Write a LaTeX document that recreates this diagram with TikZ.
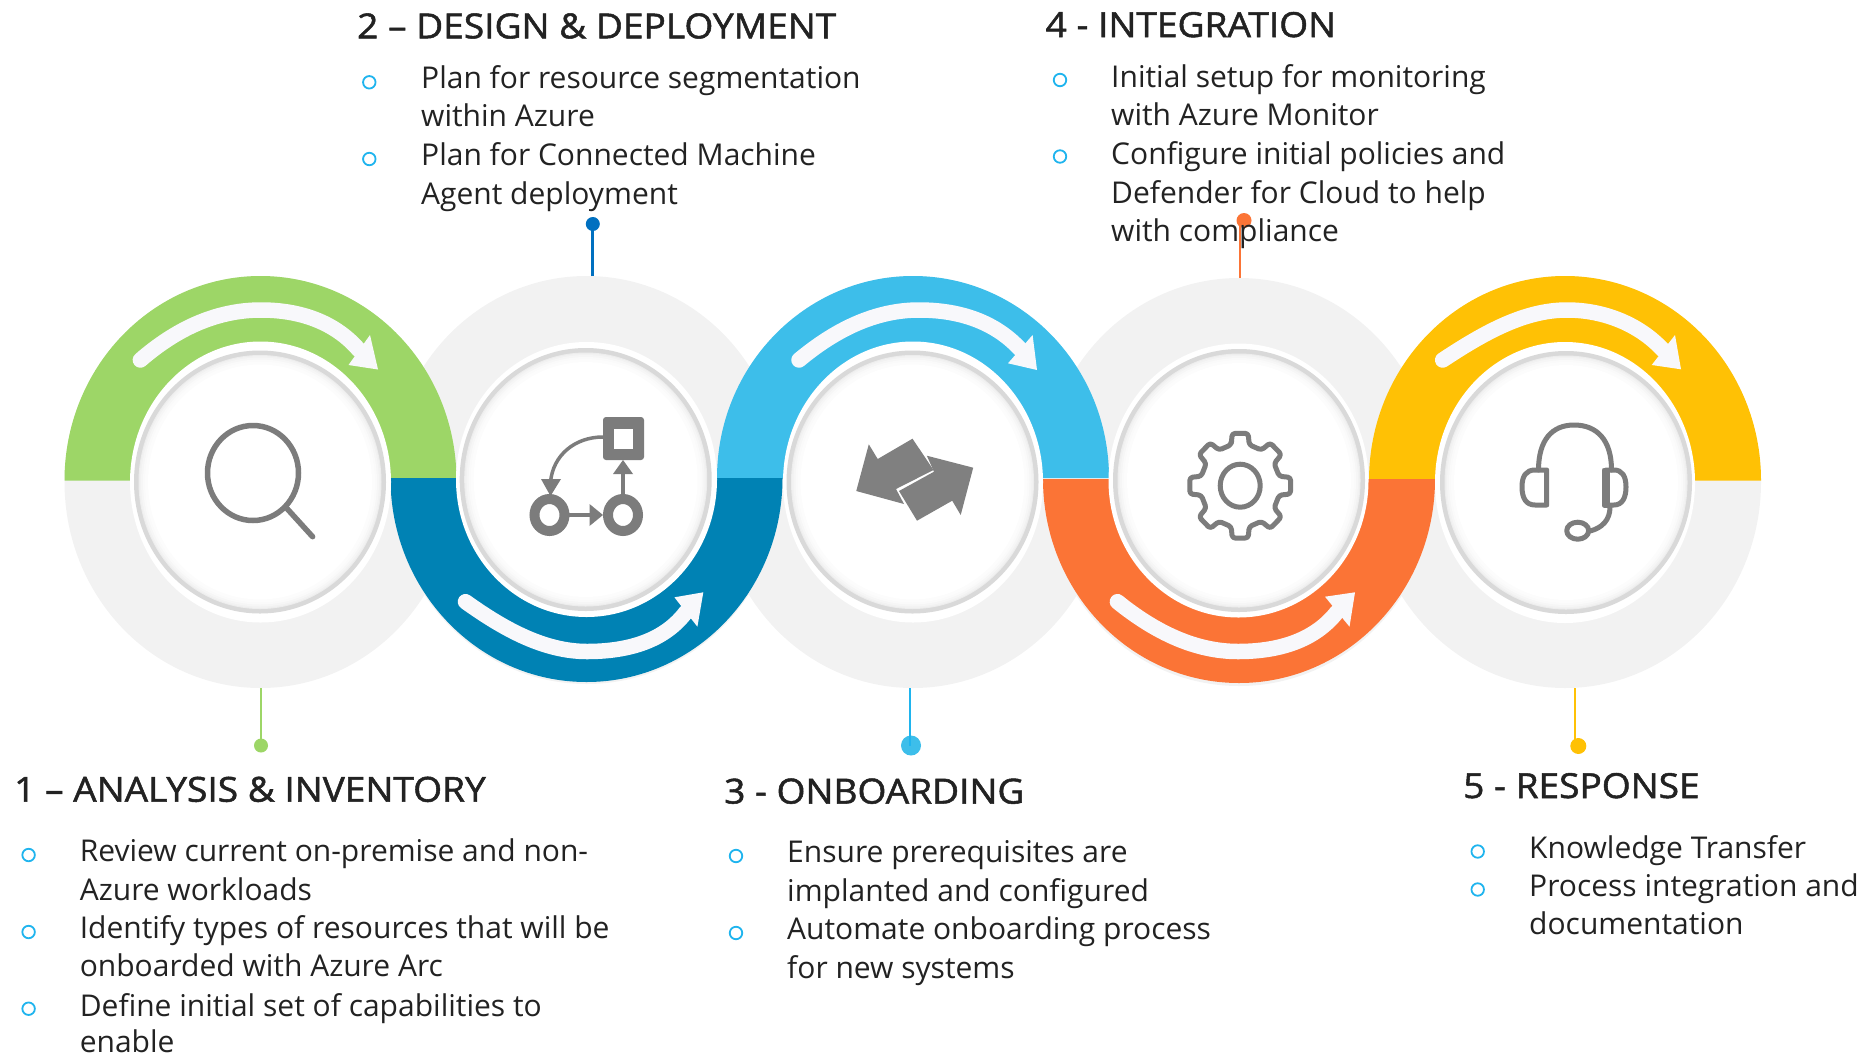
\documentclass[tikz,border=0pt]{standalone}
\usepackage{fontspec}
\setmainfont{Open Sans}
\newfontfamily\bodyfont[FakeStretch=1.0]{Open Sans}
\newfontfamily\headfont[FakeStretch=1.075,FakeBold=1.5]{Open Sans}
\definecolor{cgreen}{HTML}{9DD667}
\definecolor{cblue}{HTML}{0082B4}
\definecolor{csky}{HTML}{3DBEEA}
\definecolor{corange}{HTML}{FB7436}
\definecolor{cyellow}{HTML}{FFC105}
\definecolor{cdisc}{HTML}{F2F2F2}
\definecolor{carrow}{HTML}{F8F8FB}
\definecolor{cicon}{HTML}{7C7C7C}
\definecolor{ctext}{HTML}{222222}
\definecolor{cbullet}{HTML}{1FB4EE}
\definecolor{cpin}{HTML}{0070C0}
\tikzset{
 body/.style={anchor=base west,inner sep=0pt,text=ctext,font=\bodyfont\fontsize{30}{36}\selectfont},
 head/.style={anchor=base west,inner sep=0pt,text=ctext,font=\headfont\fontsize{34.5}{40}\selectfont},
 bul/.style={circle,draw=cbullet,line width=1.8pt,fill=white,minimum size=12.5pt,inner sep=0pt},
 pindot/.style={circle,fill=#1,inner sep=0pt},
 band/.style={draw=carrow,line width=15.5pt,line cap=round},
 ic/.style={draw=cicon,line width=5.5pt,line cap=round,line join=round},
}
\newcommand{\halfup}[5]{\fill[#5] ({#1-#3},#2) arc[start angle=180,end angle=360,x radius=#3 pt,y radius=#4 pt] -- cycle;}
\newcommand{\halfdown}[5]{\fill[#5] ({#1-#3},#2) arc[start angle=180,end angle=0,x radius=#3 pt,y radius=#4 pt] -- cycle;}
\newcommand{\medal}[6]{%
 \fill[white] (#1,#2) ellipse[x radius=#3 pt,y radius=#4 pt];
 \fill[black!15] (#5,#2) ellipse[x radius=126pt,y radius=#6 pt];
 \foreach \d/\c in {4.5/7,5.5/5,7/3.5,9/2,11/1,14/0}{
  \fill[black!\c] (#5,#2) ellipse[x radius=126pt-\d pt,y radius=#6 pt-\d pt];}
}
\begin{document}
\begin{tikzpicture}[x=1pt,y=1pt,yscale=-1]
\useasboundingbox (0,0) rectangle (1867,1055);
% grey discs
\fill[cdisc] (260.5,482) ellipse[x radius=196pt,y radius=206pt];
\fill[cdisc] (586.5,480) ellipse[x radius=196pt,y radius=204pt];
\fill[cdisc] (913,482) ellipse[x radius=196pt,y radius=206pt];
\fill[cdisc] (1239,482) ellipse[x radius=196pt,y radius=204pt];
\fill[cdisc] (1565,482) ellipse[x radius=196pt,y radius=206pt];
% coloured halves
\halfup{260.5}{480.5}{196}{204.5}{cgreen}
\halfup{913}{478}{196}{202}{csky}
\halfup{1565}{480.5}{196}{204.5}{cyellow}
\halfdown{586.5}{478}{196}{204}{cblue}
\halfdown{1239}{479}{196}{204}{corange}
% medallions
\medal{260.5}{482}{130.5}{140.5}{260}{131.5}
\medal{586.5}{479.5}{130.5}{137.5}{585.7}{131.5}
\medal{913}{482}{130}{140.5}{912.5}{131.5}
\medal{1238.5}{480.5}{130}{137}{1239}{131.5}
\medal{1565}{482.5}{130}{140.5}{1566}{131.5}
% flow arrows
\draw[band] (140.4,360) .. controls (175,330) and (215,310) .. (261,310) .. controls (300,310) and (335,322) .. (359,350);
\fill[carrow] (370,335) -- (378,369.5) -- (348.5,365) -- cycle;
\draw[band] (465.5,601.7) .. controls (505,630) and (545,651.5) .. (587,651.5) .. controls (630,651.5) and (665,640) .. (686,612);
\fill[carrow] (703.3,592.3) -- (697.4,626.7) -- (674.4,597.3) -- cycle;
\draw[band] (799,360) .. controls (835,330) and (875,310) .. (919,310) .. controls (960,310) and (995,322) .. (1020,349);
\fill[carrow] (1032.6,335) -- (1037,370) -- (1008,363.3) -- cycle;
\draw[band] (1117.4,601.7) .. controls (1155,632) and (1195,651.5) .. (1238,651.5) .. controls (1280,651.5) and (1315,640) .. (1337,612);
\fill[carrow] (1355,592.3) -- (1349.5,626.7) -- (1325,596.7) -- cycle;
\draw[band] (1442.7,360) .. controls (1485,332) and (1525,310) .. (1567,310) .. controls (1605,310) and (1640,325) .. (1663,350);
\fill[carrow] (1675,335) -- (1681,369.3) -- (1651.7,365) -- cycle;
% magnifier
\draw[ic] (253,473) ellipse[x radius=45.5pt,y radius=47.5pt];
\draw[ic] (286.5,508) -- (312.6,536.7);
% flow icon
\fill[cicon,rounded corners=3pt] (603,417) rectangle (644,460);
\fill[white] (613.5,429) rectangle (633,449);
\draw[cicon,line width=10pt] (549.5,515) ellipse[x radius=15pt,y radius=16pt];
\draw[cicon,line width=10pt] (623,515) ellipse[x radius=15pt,y radius=16pt];
\draw[cicon,line width=3.5pt] (568,515) -- (592,515);
\fill[cicon] (603,515) -- (589.5,504) -- (589.5,526) -- cycle;
\draw[cicon,line width=3.5pt] (623,495) -- (623,472);
\fill[cicon] (623,460) -- (613,474) -- (633,474) -- cycle;
\draw[cicon,line width=3.5pt] (603,437) .. controls (575,437) and (553,455) .. (550.5,482);
\fill[cicon] (550.5,496) -- (541,479) -- (561,479) -- cycle;
% swap arrows
\fill[black!50] (868.8,444.3) -- (877.7,459) -- (912.5,438.7) -- (933.5,470) -- (896,489) -- (904,504) -- (856.25,491) -- cycle;
\fill[black!50] (926.8,455.7) -- (973.2,467.7) -- (960.7,515) -- (952.2,500.7) -- (917,520.7) -- (899,491) -- (934,471.7) -- cycle;
% gear
\draw[ic,line width=5pt,rounded corners=3pt]
 ({1240.2+40*cos(103)},{485.7-42*sin(103)})
 \foreach \a in {90,45,0,-45,-90,-135,-180,-225}{
  -- ({1240.2+40*cos(\a+13)},{485.7-42*sin(\a+13)})
  -- ({1240.2+51*cos(\a+9)},{485.7-53*sin(\a+9)})
  -- ({1240.2+51*cos(\a-9)},{485.7-53*sin(\a-9)})
  -- ({1240.2+40*cos(\a-13)},{485.7-42*sin(\a-13)})
 } -- cycle;
\draw[ic,line width=5pt] (1240.2,485.7) ellipse[x radius=20pt,y radius=21.5pt];
% headset
\draw[ic,line width=5pt] (1538.5,470) .. controls (1538.5,440) and (1552,425) .. (1574,425) .. controls (1597,425) and (1611.5,440) .. (1611.5,470);
\draw[ic,line width=5pt] (1546.7,470) -- (1546.7,505) -- (1535,505) .. controls (1526,505) and (1522,498) .. (1522,487) .. controls (1522,476) and (1526,470) .. (1535,470) -- cycle;
\draw[ic,line width=5pt,fill=cicon] (1604,470) rectangle (1607,505);
\draw[ic,line width=5pt] (1606,470) -- (1614,470) .. controls (1622,470) and (1626,476) .. (1626,487) .. controls (1626,498) and (1622,505) .. (1614,505) -- (1606,505);
\draw[ic,line width=5pt] (1610,507) .. controls (1610,520) and (1602,528) .. (1590,531);
\draw[ic,line width=5pt] (1577.7,530.7) ellipse[x radius=11pt,y radius=8.5pt];
% pins
\coordinate (p1) at (260.7,688);
\node[pindot=cgreen,minimum size=14pt] (d1) at (261,745.5) {};
\draw[cgreen,line width=2pt] (p1) -- (p1 |- d1);
\coordinate (p2) at (592.4,276);
\node[pindot=cpin,minimum size=14pt] (d2) at (592.8,224) {};
\draw[cpin,line width=2.2pt] (p2) -- (p2 |- d2);
\coordinate (p3) at (909.8,688);
\node[pindot=csky,minimum size=20pt] (d3) at (911,745.5) {};
\draw[cbullet,line width=2pt] (p3) -- (p3 |- d3);
\coordinate (p4) at (1240,278);
\node[pindot=corange,minimum size=15pt] (d4) at (1244,220.5) {};
\draw[corange,line width=2.2pt] (p4) -- (p4 |- d4);
\coordinate (p5) at (1575,688);
\node[pindot=cyellow,minimum size=16pt] (d5) at (1578.3,746) {};
\draw[cyellow,line width=2.2pt] (p5) -- (p5 |- d5);
% column 1
\node[head] (h1) at (14,801.7) {1 – ANALYSIS \& INVENTORY};
\node[body] (t1a) at (79.6,861.7) {Review current on-premise and non-};
\node[body] (t1b) at (79.6,900) {Azure workloads};
\node[body] (t1c) at (79.6,938) {Identify types of resources that will be};
\node[body] (t1d) at (79.6,976.7) {onboarded with Azure Arc};
\node[body] (t1e) at (79.6,1016) {Define initial set of capabilities to};
\node[body] (t1f) at (79.6,1052) {enable};
\node[bul] (b1a) at (28.6,855) {};
\node[bul] (b1b) at (28.6,932) {};
\node[bul] (b1c) at (28.6,1008.7) {};
% column 2
\node[head] (h2) at (357,38.3) {2 – DESIGN \& DEPLOYMENT};
\node[body] (t2a) at (421,88.3) {Plan for resource segmentation};
\node[body] (t2b) at (421,126.7) {within Azure};
\node[body] (t2c) at (421,165.7) {Plan for Connected Machine};
\node[body] (t2d) at (421,204) {Agent deployment};
\node[bul] (b2a) at (369.3,82.3) {};
\node[bul] (b2b) at (369.3,159) {};
% column 3
\node[head] (h3) at (724,803.5) {3 - ONBOARDING};
\node[body] (t3a) at (787,862.8) {Ensure prerequisites are};
\node[body] (t3b) at (787,901.3) {implanted and configured};
\node[body] (t3c) at (787,939.8) {Automate onboarding process};
\node[body] (t3d) at (787,978.3) {for new systems};
\node[bul] (b3a) at (736,856) {};
\node[bul] (b3b) at (736,933) {};
% column 4
\node[head] (h4) at (1045.5,37) {4 - INTEGRATION};
\node[body] (t4a) at (1111,87) {Initial setup for monitoring};
\node[body] (t4b) at (1111,125.5) {with Azure Monitor};
\node[body] (t4c) at (1111,164.5) {Configure initial policies and};
\node[body] (t4d) at (1111,203) {Defender for Cloud to help};
\node[body] (t4e) at (1111,241.5) {with compliance};
\node[bul] (b4a) at (1060,80) {};
\node[bul] (b4b) at (1060,156.5) {};
% column 5
\node[head] (h5) at (1463,798) {5 - RESPONSE};
\node[body] (t5a) at (1529,858) {Knowledge Transfer};
\node[body] (t5b) at (1529,896.5) {Process integration and};
\node[body] (t5c) at (1529,934.5) {documentation};
\node[bul] (b5a) at (1477.7,851.5) {};
\node[bul] (b5b) at (1477.7,889.5) {};
\end{tikzpicture}
\end{document}
